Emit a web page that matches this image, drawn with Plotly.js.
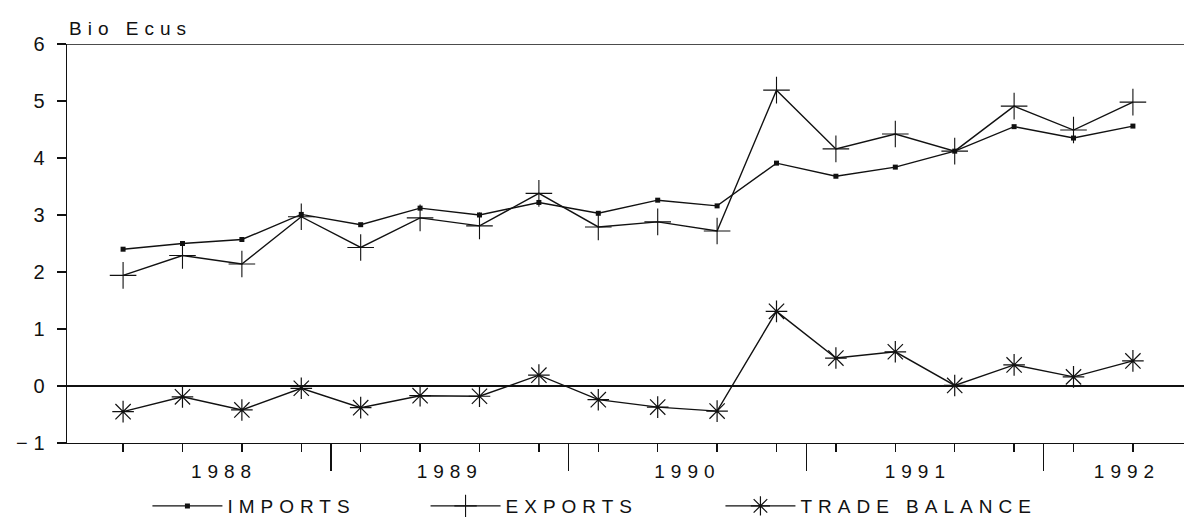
<!DOCTYPE html>
<html>
<head>
<meta charset="utf-8">
<script src="https://cdn.plot.ly/plotly-3.0.1.min.js"></script>
<style>
  html, body { margin: 0; padding: 0; background: #fff; }
  #chart { width: 1184px; height: 520px; }
  text { letter-spacing: 6px; }
</style>
</head>
<body>
<div id="chart"></div>
<script>
// Quarterly observations, 1988 Q1 – 1992 Q2 (decimal year at mid-quarter)
const quarters = [1988.125, 1988.375, 1988.625, 1988.875,
                  1989.125, 1989.375, 1989.625, 1989.875,
                  1990.125, 1990.375, 1990.625, 1990.875,
                  1991.125, 1991.375, 1991.625, 1991.875,
                  1992.125, 1992.375];
const imports = [2.40, 2.50, 2.57, 3.01, 2.83, 3.12, 3.00, 3.22, 3.03,
                 3.26, 3.16, 3.91, 3.68, 3.84, 4.12, 4.55, 4.35, 4.56];
const exports = [1.94, 2.29, 2.14, 2.97, 2.43, 2.95, 2.81, 3.38, 2.79,
                 2.88, 2.72, 5.19, 4.16, 4.42, 4.12, 4.91, 4.49, 4.98];
const balance = [-0.45, -0.19, -0.42, -0.04, -0.38, -0.17, -0.18, 0.19, -0.24,
                 -0.37, -0.44, 1.31, 0.49, 0.60, 0.01, 0.37, 0.16, 0.44];

const yearLabels = ['1988', '1989', '1990', '1991', '1992'];
const yearLabelPos = [1988.55, 1989.5, 1990.5, 1991.47, 1992.35];
const yearDividers = [1989, 1990, 1991, 1992];
const yTicks = [-1, 0, 1, 2, 3, 4, 5, 6];

const ink = '#111111';
const font = 'Liberation Sans, Arial, sans-serif';

const traces = [
  {
    name: 'IMPORTS', x: quarters, y: imports, type: 'scatter', mode: 'lines+markers',
    legend: 'legend',
    line: { color: ink, width: 1.4 },
    marker: { symbol: 'square', size: 5, color: ink }
  },
  {
    name: 'EXPORTS', x: quarters, y: exports, type: 'scatter', mode: 'lines+markers',
    legend: 'legend2',
    line: { color: ink, width: 1.4 },
    marker: { symbol: 'cross-thin', size: 19, color: ink, line: { color: ink, width: 1.1 } }
  },
  {
    name: 'TRADE BALANCE', x: quarters, y: balance, type: 'scatter', mode: 'lines+markers',
    legend: 'legend3',
    line: { color: ink, width: 1.4 },
    marker: { symbol: 'asterisk', size: 18, color: ink, line: { color: ink, width: 1.2 } }
  },
  { x: [yearDividers[0]], y: [0], xaxis: 'x2', type: 'scatter', mode: 'markers',
    marker: { opacity: 0 }, showlegend: false, hoverinfo: 'skip' }
];

const xRange = [1987.889, 1992.590];

function legendAt(xp, w) {
  return {
    orientation: 'h', x: xp, y: -0.158, xanchor: 'left', yanchor: 'middle',
    font: { family: font, size: 19, color: ink },
    itemwidth: 70, entrywidth: w, entrywidthmode: 'pixels',
    bgcolor: 'rgba(0,0,0,0)'
  };
}

const layout = {
  width: 1184, height: 520,
  margin: { l: 67, r: 0, t: 44, b: 77, autoexpand: false },
  paper_bgcolor: '#fff', plot_bgcolor: '#fff',
  font: { family: font, size: 19, color: ink },
  showlegend: true,
  legend: legendAt(0.072, 170),
  legend2: legendAt(0.321, 170),
  legend3: legendAt(0.585, 280),
  xaxis: {
    range: xRange, showgrid: false, zeroline: false,
    showline: true, linecolor: ink, linewidth: 1.3,
    tickmode: 'array', tickvals: yearLabelPos, ticktext: yearLabels,
    ticks: '', ticklabelstandoff: 11,
    tickfont: { family: font, size: 19, color: ink },
    minor: { tickmode: 'array', tickvals: quarters, ticks: 'outside', ticklen: 8,
             tickwidth: 1.3, tickcolor: ink, showgrid: false }
  },
  xaxis2: {
    range: xRange, overlaying: 'x', anchor: 'y', side: 'bottom',
    showgrid: false, zeroline: false, showline: false,
    tickmode: 'array', tickvals: yearDividers, ticks: 'outside', ticklen: 27,
    tickwidth: 1.3, tickcolor: ink, showticklabels: false
  },
  yaxis: {
    range: [-1, 6], showgrid: false,
    zeroline: true, zerolinecolor: ink, zerolinewidth: 1.2,
    showline: true, linecolor: ink, linewidth: 1.3,
    tickmode: 'array', tickvals: yTicks, ticks: 'outside', ticklen: 9,
    tickwidth: 1.3, tickcolor: ink,
    tickfont: { family: font, size: 20, color: ink }, ticklabelstandoff: 2
  },
  shapes: [
    { type: 'line', xref: 'paper', yref: 'y', x0: 0, x1: 1, y0: yTicks[yTicks.length - 1],
      y1: yTicks[yTicks.length - 1], line: { color: ink, width: 1.3 } }
  ],
  annotations: [
    { text: 'Bio Ecus', xref: 'paper', yref: 'paper', x: 0, y: 1, xanchor: 'left',
      yanchor: 'bottom', yshift: 3, showarrow: false,
      font: { family: font, size: 19, color: ink } }
  ]
};

Plotly.newPlot('chart', traces, layout, { staticPlot: true, displayModeBar: false });
</script>
</body>
</html>
